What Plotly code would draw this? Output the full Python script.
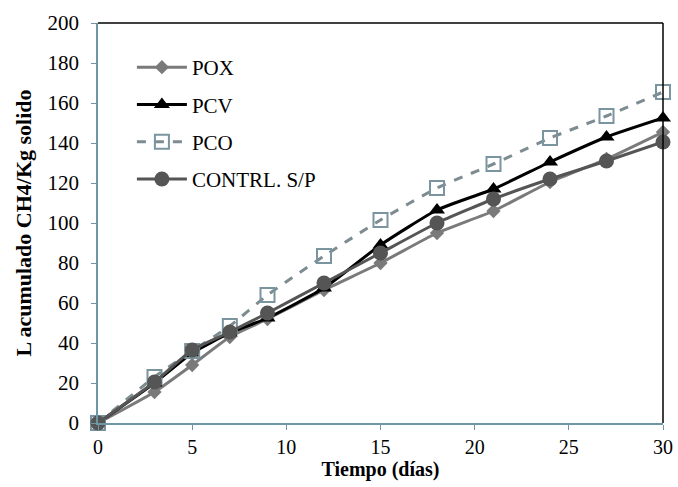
import plotly.graph_objects as go

# ── Data ──────────────────────────────────────────────────
dias = [0, 3, 5, 7, 9, 12, 15, 18, 21, 24, 27, 30]
pox = [0, 15.5, 29, 43, 52, 66.5, 80, 95, 106, 120.5, 132, 145.5]
pcv = [0, 20, 35, 45, 52.5, 67.5, 89, 106.5, 117, 130.5, 143, 152.5]
pco = [0, 23, 36, 48.5, 64, 83.5, 101.5, 117.5, 129.5, 142.5, 153.5, 165.5]
control = [0, 20.5, 36.5, 45.5, 55, 70, 85, 100, 112, 122, 131, 140.5]

x_ticks = [0, 5, 10, 15, 20, 25, 30]
y_ticks = [0, 20, 40, 60, 80, 100, 120, 140, 160, 180, 200]

AXIS_COLOR = "#6f97a3"
FONT = "Liberation Serif, Times New Roman, serif"

series = [
    ("POX", pox, dict(color="#7a7a7a", width=3), dict(symbol="diamond", size=11, color="#7a7a7a")),
    ("PCV", pcv, dict(color="#000000", width=3), dict(symbol="triangle-up", size=14, color="#000000")),
    ("PCO", pco, dict(color="#7d8c90", width=3, dash="dash"),
     dict(symbol="square-open", size=14, color="#7a95a0", line=dict(width=2, color="#7a95a0"))),
    ("CONTRL. S/P", control, dict(color="#555555", width=3), dict(symbol="circle", size=15, color="#555555")),
]

fig = go.Figure()
for name, vals, line, marker in series:
    fig.add_trace(go.Scatter(
        x=dias, y=vals, name=name, legendgroup=name,
        mode="lines+markers", line=dict(shape="spline", smoothing=0.5, **line),
        marker=marker, cliponaxis=False,
    ))

fig.update_layout(
    width=678, height=487,
    margin=dict(l=98, r=15, t=23, b=64, autoexpand=False),
    plot_bgcolor="white", paper_bgcolor="white",
    font=dict(family=FONT, size=20, color="#000000"),
    legend=dict(
        x=0.06, y=0.94, xanchor="left", yanchor="top",
        font=dict(family=FONT, size=21),
        traceorder="grouped", tracegroupgap=7, itemwidth=50,
        bgcolor="rgba(0,0,0,0)",
    ),
    shapes=[
        dict(type="line", xref="paper", yref="paper", x0=0, x1=1, y0=1, y1=1,
             line=dict(color="#000000", width=1.5)),
        dict(type="line", xref="paper", yref="paper", x0=1, x1=1, y0=0, y1=1,
             line=dict(color="#000000", width=1.5)),
    ],
)

fig.update_xaxes(
    range=[0, 30], tickvals=x_ticks, showgrid=False, zeroline=False, automargin=False,
    showline=True, linecolor=AXIS_COLOR, linewidth=1.5,
    ticks="outside", ticklen=5, tickcolor=AXIS_COLOR,
    tickfont=dict(family=FONT, size=20),
    title=dict(text="<b>Tiempo (días)</b>", font=dict(family=FONT, size=20), standoff=4),
)
fig.update_yaxes(
    range=[0, 200], tickvals=y_ticks, showgrid=False, zeroline=False, automargin=False,
    showline=True, linecolor=AXIS_COLOR, linewidth=1.5,
    ticks="outside", ticklen=5, tickcolor=AXIS_COLOR, ticklabelstandoff=8,
    tickfont=dict(family=FONT, size=21),
    title=dict(text="<b>L acumulado CH4/Kg solido</b>", font=dict(family=FONT, size=22), standoff=10),
)

# drop the page's default body margin so the figure sits at the window's corner
fig.write_html("out.html", config={"displayModeBar": False},
               post_script="document.body.style.margin = '0';")
